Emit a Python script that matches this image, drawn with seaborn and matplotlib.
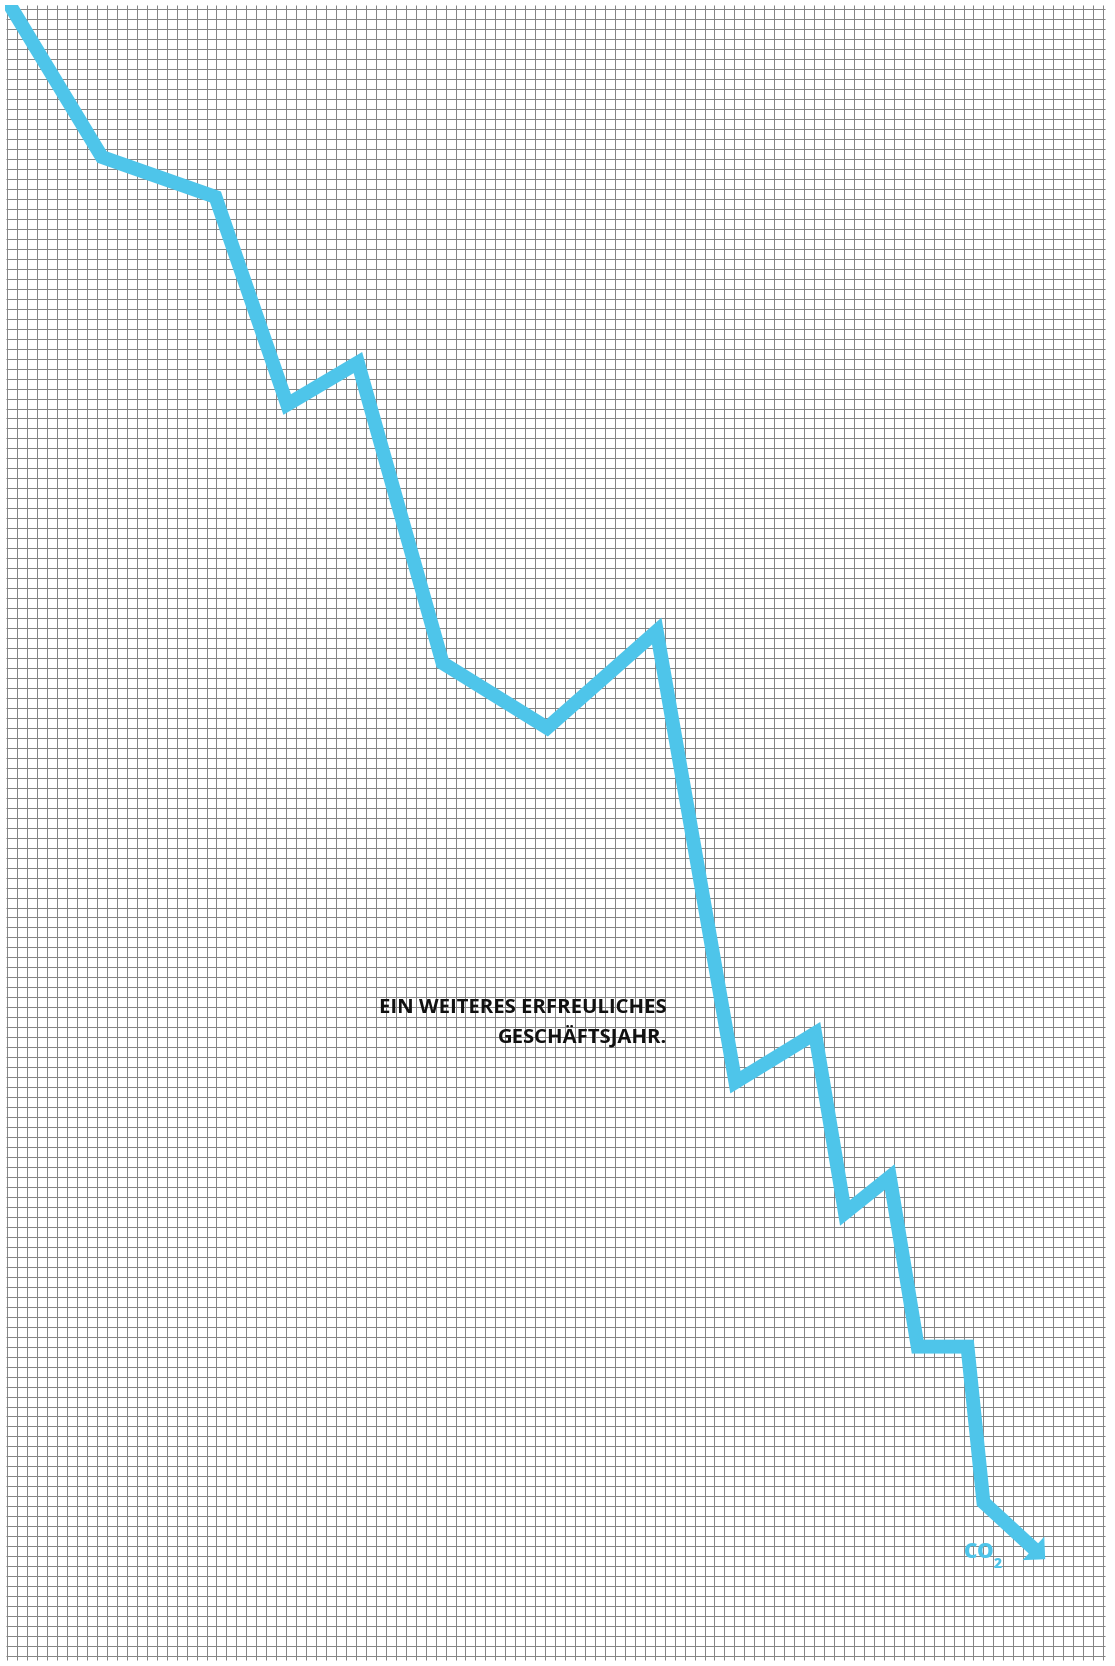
import numpy as np
import pandas as pd
import seaborn as sns
import matplotlib.pyplot as plt
from matplotlib.patches import Rectangle

# line vertices in grid units (x to the right, y downwards)
step_x = [-0.4, 9.5, 20.9, 28.1, 35.2, 43.7, 54.2, 65.2, 73.1, 81.1, 84.1, 88.6, 91.4, 96.4, 98.0, 104.2]
co2_y = [-1.5, 14.8, 18.8, 39.6, 35.4, 65.5, 72.0, 62.3, 107.5, 102.6, 120.6, 117.0, 134.0, 134.0, 149.6, 155.3]

title_lines = ["EIN WEITERES ERFREULICHES", "GESCHÄFTSJAHR."]
series_label = "CO"
series_sub = "2"

n_cols = 110
n_rows = 165
blue = "#4EC5EA"
grid_color = "#858585"

sns.set_style("white")
plt.rcParams["font.family"] = ["Open Sans", "DejaVu Sans"]

fig = plt.figure(figsize=(11.15, 16.66), dpi=100)
ax = fig.add_axes([0, 0, 1, 1])
ax.set_xlim(-0.733, 111.21)
ax.set_ylim(166.0, -0.932)
ax.axis("off")

# squared paper
ax.vlines(np.arange(n_cols + 1), -0.4, n_rows + 0.4, color=grid_color, lw=0.72, zorder=1)
ax.hlines(np.arange(n_rows + 1), -0.15, n_cols + 0.25, color=grid_color, lw=0.72, zorder=1)

# stop the stroke short of the tip so the arrow head covers its end
tip = np.array([step_x[-1], co2_y[-1]])
prev = np.array([step_x[-2], co2_y[-2]])
u = (tip - prev) / np.linalg.norm(tip - prev)
base = tip - u * 1.0

df = pd.DataFrame({"x": step_x[:-1] + [base[0]], "y": co2_y[:-1] + [base[1]]})
sns.lineplot(data=df, x="x", y="y", sort=False, estimator=None, color=blue,
             lw=10, solid_joinstyle="miter", solid_capstyle="butt", ax=ax, zorder=3)
clip = Rectangle((-0.2, -0.45), n_cols + 0.5, n_rows + 0.9, transform=ax.transData)
ax.lines[-1].set_clip_path(clip)

ax.annotate("", xy=tuple(tip), xytext=tuple(prev),
            arrowprops=dict(arrowstyle="-|>,head_length=1.15,head_width=1.15",
                            mutation_scale=10, lw=0, color=blue,
                            shrinkA=0, shrinkB=0), zorder=4)

ax.set_xlim(-0.733, 111.21)
ax.set_ylim(166.0, -0.932)

ax.text(66.2, 100.6, title_lines[0], ha="right", va="baseline",
        fontsize=14.6, fontweight="bold", color="#111111", zorder=5)
ax.text(66.2, 103.5, title_lines[1], ha="right", va="baseline",
        fontsize=14.6, fontweight="bold", color="#111111", zorder=5)

co = ax.text(96.0, 155.2, series_label, ha="left", va="baseline",
             fontsize=15, fontweight="heavy", color=blue, zorder=5)
ax.annotate(series_sub, xy=(1, 0), xycoords=co, xytext=(0.5, -0.5),
            textcoords="offset points", ha="left", va="center",
            fontsize=10, fontweight="heavy", color=blue, zorder=5)

fig.savefig("out.png", dpi=100, facecolor="white")
